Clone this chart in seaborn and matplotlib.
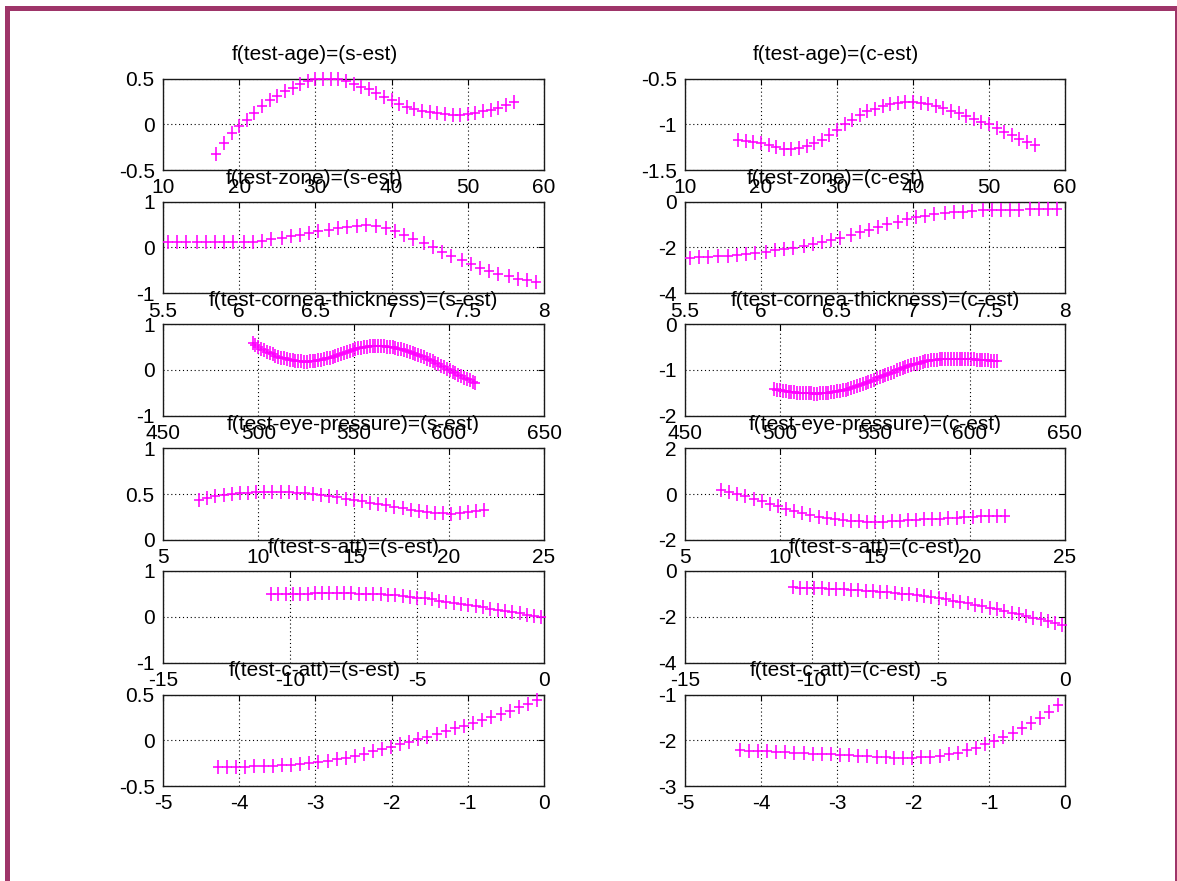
import matplotlib
matplotlib.use("Agg")
import matplotlib.pyplot as plt
import seaborn as sns
from matplotlib.patches import Rectangle
from matplotlib.path import Path
from matplotlib.ticker import FormatStrFormatter

# ---- data ---------------------------------------------------------------
test_vars = ["test-age", "test-zone", "test-cornea-thickness",
             "test-eye-pressure", "test-s-att", "test-c-att"]
estimates = ["s-est", "c-est"]

age_x = [17, 18, 19, 20, 21, 22, 23, 24, 25, 26, 27, 28, 29, 30, 31, 32, 33, 34,
         35, 36, 37, 38, 39, 40, 41, 42, 43, 44, 45, 46, 47, 48, 49, 50, 51, 52,
         53, 54, 55, 56]
age_s = [-0.32, -0.20, -0.10, -0.02, 0.05, 0.12, 0.20, 0.26, 0.31, 0.36, 0.40,
         0.44, 0.47, 0.49, 0.50, 0.50, 0.49, 0.47, 0.44, 0.41, 0.38, 0.34, 0.30,
         0.26, 0.22, 0.19, 0.17, 0.15, 0.13, 0.12, 0.11, 0.10, 0.10, 0.11, 0.12,
         0.14, 0.16, 0.18, 0.21, 0.24]
age_c = [-1.17, -1.18, -1.19, -1.21, -1.23, -1.25, -1.27, -1.27, -1.26, -1.24,
         -1.21, -1.17, -1.12, -1.06, -1.00, -0.95, -0.90, -0.86, -0.83, -0.80,
         -0.78, -0.77, -0.76, -0.76, -0.77, -0.78, -0.80, -0.82, -0.85, -0.88,
         -0.91, -0.94, -0.97, -1.00, -1.04, -1.08, -1.12, -1.16, -1.19, -1.23]

zone_x = [5.53, 5.59, 5.65, 5.72, 5.78, 5.84, 5.90, 5.96, 6.03, 6.09, 6.15, 6.21,
          6.28, 6.34, 6.40, 6.46, 6.52, 6.59, 6.65, 6.71, 6.77, 6.83, 6.90, 6.96,
          7.02, 7.08, 7.14, 7.21, 7.27, 7.33, 7.39, 7.46, 7.52, 7.58, 7.64, 7.70,
          7.77, 7.83, 7.89, 7.95]
zone_s = [0.11, 0.11, 0.11, 0.11, 0.11, 0.11, 0.115, 0.12, 0.12, 0.13, 0.15, 0.18,
          0.21, 0.24, 0.27, 0.31, 0.35, 0.39, 0.42, 0.45, 0.47, 0.48, 0.46, 0.42,
          0.35, 0.27, 0.18, 0.09, 0.0, -0.09, -0.18, -0.28, -0.37, -0.45, -0.52,
          -0.58, -0.63, -0.68, -0.72, -0.76]
zone_c = [-2.45, -2.43, -2.41, -2.39, -2.36, -2.33, -2.29, -2.24, -2.19, -2.13,
          -2.07, -2.01, -1.94, -1.86, -1.78, -1.68, -1.57, -1.45, -1.34, -1.22,
          -1.10, -0.98, -0.87, -0.77, -0.68, -0.61, -0.55, -0.50, -0.46, -0.43,
          -0.40, -0.38, -0.37, -0.36, -0.35, -0.35, -0.34, -0.34, -0.34, -0.34]

cornea_x = [497, 498.5, 500, 501.5, 503, 504.5, 506, 507.5, 509, 510.5, 512, 513.5,
            515, 516.5, 518, 519.5, 521, 522.5, 524, 525.5, 527, 528.5, 530, 531.5,
            533, 534.5, 536, 537.5, 539, 540.5, 542, 543.5, 545, 546.5, 548, 549.5,
            551, 552.5, 554, 555.5, 557, 558.5, 560, 561.5, 563, 564.5, 566, 567.5,
            569, 570.5, 572, 573.5, 575, 576.5, 578, 579.5, 581, 582.5, 584, 585.5,
            587, 588.5, 590, 591.5, 593, 594.5, 596, 597.5, 599, 600.5, 602, 603.5,
            605, 606.5, 608, 609.5, 611, 612.5, 614]
cornea_s = [0.580, 0.538, 0.499, 0.462, 0.427, 0.394, 0.364, 0.336, 0.311, 0.287,
            0.266, 0.247, 0.231, 0.217, 0.205, 0.195, 0.188, 0.183, 0.180, 0.180,
            0.182, 0.187, 0.195, 0.205, 0.218, 0.232, 0.249, 0.267, 0.287, 0.307,
            0.328, 0.350, 0.372, 0.393, 0.413, 0.433, 0.451, 0.468, 0.482, 0.495,
            0.505, 0.513, 0.518, 0.520, 0.520, 0.517, 0.513, 0.507, 0.499, 0.489,
            0.477, 0.464, 0.449, 0.432, 0.413, 0.393, 0.371, 0.348, 0.324, 0.298,
            0.271, 0.243, 0.214, 0.184, 0.154, 0.123, 0.091, 0.058, 0.026, -0.007,
            -0.040, -0.073, -0.106, -0.138, -0.171, -0.203, -0.234, -0.264, -0.294]
cornea_c = [-1.420, -1.433, -1.445, -1.457, -1.467, -1.477, -1.485, -1.493, -1.499,
            -1.505, -1.510, -1.514, -1.517, -1.519, -1.520, -1.520, -1.518, -1.515,
            -1.510, -1.504, -1.496, -1.486, -1.475, -1.462, -1.447, -1.432, -1.415,
            -1.396, -1.377, -1.356, -1.335, -1.313, -1.289, -1.266, -1.241, -1.216,
            -1.191, -1.166, -1.140, -1.114, -1.089, -1.064, -1.039, -1.014, -0.991,
            -0.967, -0.945, -0.924, -0.903, -0.884, -0.865, -0.848, -0.833, -0.818,
            -0.805, -0.794, -0.784, -0.776, -0.770, -0.765, -0.762, -0.760, -0.760,
            -0.761, -0.761, -0.762, -0.764, -0.766, -0.768, -0.771, -0.774, -0.777,
            -0.780, -0.785, -0.789, -0.794, -0.799, -0.804, -0.810]

pressure_x = [6.90, 7.33, 7.75, 8.18, 8.61, 9.04, 9.46, 9.89, 10.32, 10.74, 11.17,
              11.60, 12.03, 12.45, 12.88, 13.31, 13.73, 14.16, 14.59, 15.02, 15.44,
              15.87, 16.30, 16.72, 17.15, 17.58, 18.01, 18.43, 18.86, 19.29, 19.71,
              20.14, 20.57, 20.99, 21.42, 21.85]
pressure_s = [0.44, 0.46, 0.475, 0.49, 0.50, 0.51, 0.515, 0.52, 0.525, 0.525, 0.525,
              0.52, 0.515, 0.51, 0.50, 0.49, 0.48, 0.465, 0.45, 0.435, 0.42, 0.405,
              0.39, 0.375, 0.36, 0.345, 0.33, 0.315, 0.305, 0.295, 0.29, 0.285, 0.29,
              0.30, 0.315, 0.33]
pressure_c = [0.19, 0.10, 0.01, -0.09, -0.20, -0.31, -0.42, -0.53, -0.64, -0.75,
              -0.85, -0.93, -1.00, -1.06, -1.10, -1.14, -1.17, -1.19, -1.20, -1.20,
              -1.20, -1.19, -1.17, -1.15, -1.13, -1.11, -1.09, -1.07, -1.05, -1.03,
              -1.01, -0.99, -0.98, -0.97, -0.96, -0.95]

satt_x = [-10.75, -10.46, -10.17, -9.89, -9.60, -9.31, -9.02, -8.74, -8.45, -8.16,
          -7.87, -7.58, -7.30, -7.01, -6.72, -6.43, -6.14, -5.86, -5.57, -5.28,
          -4.99, -4.70, -4.42, -4.13, -3.84, -3.55, -3.26, -2.98, -2.69, -2.40,
          -2.11, -1.82, -1.54, -1.25, -0.96, -0.67, -0.38, -0.10]
satt_s = [0.50, 0.50, 0.50, 0.50, 0.505, 0.505, 0.51, 0.51, 0.51, 0.51, 0.51, 0.51,
          0.505, 0.50, 0.495, 0.49, 0.48, 0.47, 0.455, 0.44, 0.42, 0.40, 0.38, 0.355,
          0.33, 0.305, 0.28, 0.255, 0.23, 0.205, 0.18, 0.155, 0.13, 0.10, 0.075,
          0.045, 0.015, -0.015]
satt_c = [-0.72, -0.73, -0.74, -0.75, -0.76, -0.77, -0.78, -0.80, -0.82, -0.84,
          -0.86, -0.88, -0.90, -0.93, -0.96, -0.99, -1.02, -1.06, -1.10, -1.14,
          -1.19, -1.24, -1.29, -1.35, -1.41, -1.47, -1.54, -1.61, -1.68, -1.75,
          -1.82, -1.89, -1.96, -2.04, -2.12, -2.20, -2.28, -2.36]

catt_x = [-4.28, -4.16, -4.04, -3.92, -3.80, -3.68, -3.56, -3.44, -3.32, -3.20,
          -3.08, -2.96, -2.84, -2.72, -2.60, -2.48, -2.36, -2.25, -2.13, -2.01,
          -1.89, -1.77, -1.65, -1.53, -1.41, -1.29, -1.17, -1.05, -0.93, -0.81,
          -0.69, -0.57, -0.45, -0.33, -0.21, -0.09]
catt_s = [-0.29, -0.29, -0.29, -0.29, -0.285, -0.285, -0.28, -0.275, -0.27, -0.26,
          -0.25, -0.24, -0.225, -0.21, -0.19, -0.17, -0.145, -0.12, -0.095, -0.07,
          -0.04, -0.015, 0.01, 0.04, 0.07, 0.10, 0.13, 0.16, 0.19, 0.22, 0.255, 0.29,
          0.325, 0.36, 0.40, 0.44]
catt_c = [-2.22, -2.23, -2.24, -2.24, -2.25, -2.26, -2.27, -2.28, -2.29, -2.30,
          -2.31, -2.32, -2.33, -2.34, -2.35, -2.36, -2.37, -2.38, -2.38, -2.38,
          -2.37, -2.36, -2.34, -2.31, -2.27, -2.22, -2.16, -2.09, -2.01, -1.93,
          -1.84, -1.74, -1.63, -1.51, -1.38, -1.24]

# x axis ticks per row (limits are the first and last tick)
x_ticks = [
    [10, 20, 30, 40, 50, 60],
    [5.5, 6, 6.5, 7, 7.5, 8],
    [450, 500, 550, 600, 650],
    [5, 10, 15, 20, 25],
    [-15, -10, -5, 0],
    [-5, -4, -3, -2, -1, 0],
]
# y ticks per row: (s-est column, c-est column)
y_ticks = [
    ([-0.5, 0, 0.5], [-1.5, -1, -0.5]),
    ([-1, 0, 1], [-4, -2, 0]),
    ([-1, 0, 1], [-2, -1, 0]),
    ([0, 0.5, 1], [-2, 0, 2]),
    ([-1, 0, 1], [-4, -2, 0]),
    ([-0.5, 0, 0.5], [-3, -2, -1]),
]
xs = [age_x, zone_x, cornea_x, pressure_x, satt_x, catt_x]
ys = [(age_s, age_c), (zone_s, zone_c), (cornea_s, cornea_c),
      (pressure_s, pressure_c), (satt_s, satt_c), (catt_s, catt_c)]

# horizontal anchor of each row's title (axes fraction)
title_x = [0.398, 0.396, 0.5, 0.5, 0.5, 0.398]

# ---- style ----------------------------------------------------------------
sns.set_style("white")
plt.rcParams["font.family"] = ["Liberation Sans", "DejaVu Sans"]
plt.rcParams["axes.unicode_minus"] = False

W, H = 1177, 881
fig = plt.figure(figsize=(W / 100, H / 100), dpi=100)
fig.patch.set_facecolor("white")

col_left = [163, 685]
col_width = [381, 380]
row_top = [78.5, 201.7, 324.0, 448.3, 571.0, 694.5]
row_h = 91.5

MAGENTA = "#ff00ff"
FS = 15

# plus sign, slightly taller than wide
PLUS = Path([(0, -1), (0, 1), (-0.72, 0), (0.72, 0)],
            [Path.MOVETO, Path.LINETO, Path.MOVETO, Path.LINETO])

for r in range(6):
    for c in range(2):
        left = col_left[c] / W
        bottom = (H - row_top[r] - row_h) / H
        ax = fig.add_axes([left, bottom, col_width[c] / W, row_h / H])
        sns.scatterplot(x=xs[r], y=ys[r][c], ax=ax, marker=PLUS, s=115,
                        color=MAGENTA, edgecolor=MAGENTA, linewidth=1.15,
                        clip_on=False, zorder=3, legend=False)
        xt = x_ticks[r]
        yt = y_ticks[r][c]
        ax.set_xlim(xt[0], xt[-1])
        ax.set_ylim(yt[0], yt[-1])
        ax.set_xticks(xt)
        ax.set_yticks(yt)
        ax.xaxis.set_major_formatter(FormatStrFormatter("%g"))
        ax.yaxis.set_major_formatter(FormatStrFormatter("%g"))
        ax.set_xlabel("")
        ax.set_ylabel("")
        ax.grid(True, linestyle=(0, (1, 2.5)), color="black", linewidth=0.8)
        ax.set_axisbelow(True)
        ax.tick_params(direction="in", length=4, width=0.8, top=True,
                       right=True, labelsize=FS, pad=6, colors="black")
        for sp in ax.spines.values():
            sp.set_visible(True)
            sp.set_color("#1a1a1a")
            sp.set_linewidth(1.0)
        ax.set_title(f"f({test_vars[r]})=({estimates[c]})", fontsize=FS,
                     pad=13, color="black", x=title_x[r])

# page frame
FRAME = "#9e3569"
fig.add_artist(Rectangle((5 / W, 0), 5 / W, (H - 6) / H,
                         transform=fig.transFigure, color=FRAME, lw=0))
fig.add_artist(Rectangle((5 / W, (H - 11) / H), (W - 5) / W, 5 / H,
                         transform=fig.transFigure, color=FRAME, lw=0))
fig.add_artist(Rectangle((1174.5 / W, 0), 2.5 / W, (H - 6) / H,
                         transform=fig.transFigure, color=FRAME, lw=0))

fig.savefig("out.png", dpi=100, facecolor="white")
